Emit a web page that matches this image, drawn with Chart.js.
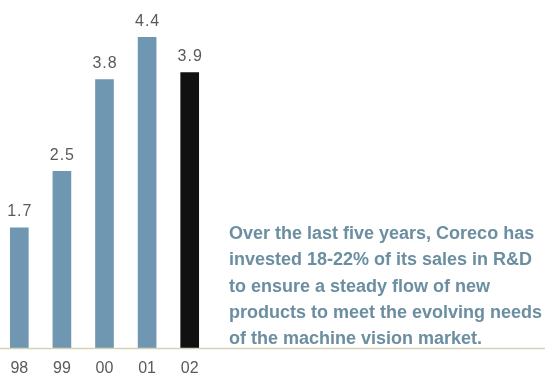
<!DOCTYPE html>
<html>
<head>
<meta charset="utf-8">
<script src="https://cdn.jsdelivr.net/npm/chart.js@4"></script>
<style>
  html, body { margin: 0; padding: 0; background: #ffffff; }
  #wrap { position: relative; width: 545px; height: 381px; overflow: hidden; }
  #chartBox { position: absolute; left: -2px; top: 0; width: 547px; height: 381px; }
  #note {
    position: absolute; left: 229px; top: 220px; width: 330px;
    font-family: "Liberation Sans", Arial, sans-serif; font-weight: bold;
    font-size: 18px; line-height: 26.3px; color: #6b8ea1; white-space: nowrap;
  }
</style>
</head>
<body>
<div id="wrap">
  <div id="chartBox"><canvas id="c"></canvas></div>
  <div id="note">Over the last five years, Coreco has<br>invested 18-22% of its sales in R&amp;D<br>to ensure a steady flow of new<br>products to meet the evolving needs<br>of the machine vision market.</div>
</div>
<script>
const categories = ["98", "99", "00", "01", "02"];
const values = [1.7, 2.5, 3.8, 4.4, 3.9];
const valueLabels = ["1.7", "2.5", "3.8", "4.4", "3.9"];
const barColors = ["#6f97b2", "#6f97b2", "#6f97b2", "#6f97b2", "#111111"];

const extras = {
  id: 'extras',
  afterDatasetsDraw(chart) {
    const ctx = chart.ctx;
    const y0 = chart.scales.y.getPixelForValue(0);
    ctx.save();
    ctx.strokeStyle = '#d6d2b8';
    ctx.lineWidth = 1.4;
    ctx.beginPath();
    ctx.moveTo(0, y0 + 0.5);
    ctx.lineTo(chart.width, y0 + 0.5);
    ctx.stroke();
    const meta = chart.getDatasetMeta(0);
    ctx.fillStyle = '#5a5a5a';
    ctx.font = '16px "Liberation Sans", Arial, sans-serif';
    if ('letterSpacing' in ctx) ctx.letterSpacing = '1px';
    ctx.textAlign = 'center';
    ctx.textBaseline = 'middle';
    meta.data.forEach((bar, i) => {
      ctx.fillText(valueLabels[i], bar.x + 0.5, bar.y - 16);
    });
    ctx.restore();
  }
};

new Chart(document.getElementById('c'), {
  type: 'bar',
  data: {
    labels: categories,
    datasets: [{
      data: values,
      backgroundColor: barColors,
      borderWidth: 0,
      barThickness: 18
    }]
  },
  options: {
    responsive: true,
    maintainAspectRatio: false,
    animation: false,
    events: [],
    layout: { padding: { left: 0, right: 334, top: 9, bottom: 0 } },
    plugins: { legend: { display: false }, tooltip: { enabled: false } },
    scales: {
      x: {
        grid: { display: false, drawTicks: false },
        border: { display: false },
        ticks: {
          color: '#5a5a5a', padding: 11,
          font: { family: '"Liberation Sans", Arial, sans-serif', size: 16 }
        },
        afterFit(scale) { scale.height = 33; }
      },
      y: {
        display: false,
        min: 0, max: 4.8
      }
    }
  },
  plugins: [extras]
});
</script>
</body>
</html>
